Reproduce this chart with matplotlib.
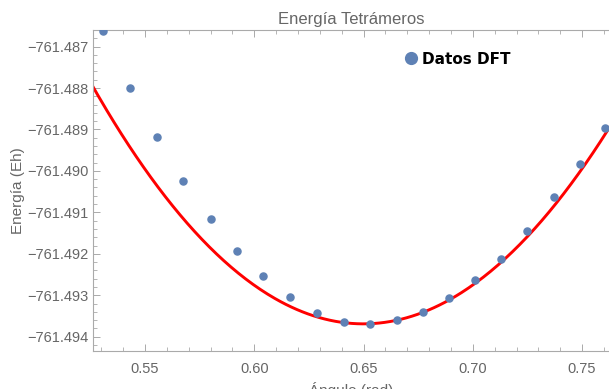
import numpy as np
import matplotlib
matplotlib.use("Agg")
from matplotlib import pyplot as plt
from matplotlib.ticker import MultipleLocator, FormatStrFormatter

# datos DFT (angulo en rad, energia en Eh)
angulo = [0.5308, 0.5431, 0.5555, 0.5674, 0.5802, 0.5921, 0.6040, 0.6163,
          0.6287, 0.6410, 0.6529, 0.6653, 0.6772, 0.6891, 0.7010, 0.7129,
          0.7248, 0.7371, 0.7490, 0.7604]
energia = [-761.48662, -761.48800, -761.48918, -761.49024, -761.49116,
           -761.49193, -761.49253, -761.49304, -761.49343, -761.49365,
           -761.49369, -761.49360, -761.49340, -761.49307, -761.49263,
           -761.49212, -761.49145, -761.49063, -761.48983, -761.48896]

# ajuste cuadratico: E = e0 + k*(x - x0)^2
ajuste_k = 0.3738
ajuste_x0 = 0.6499
ajuste_e0 = -761.49369

azul = '#5E81B5'
gris = '#666666'
plt.rcParams['font.family'] = ['Liberation Sans', 'DejaVu Sans']

fig = plt.figure(figsize=(6.09, 3.89), dpi=100)
ax = fig.add_axes([93/609, 1-351/389, 1-93/609, (351-30)/389])

xs = np.linspace(0.52, 0.77, 300)
ax.plot(xs, ajuste_e0 + ajuste_k*(xs - ajuste_x0)**2, color='#FF0000', lw=2.1, zorder=2)
ax.scatter(angulo, energia, s=26, color=azul, zorder=3, clip_on=True)

ax.set_xlim(0.5262, 0.7623)
ax.set_ylim(-761.494345, -761.48660)

ax.xaxis.set_major_locator(MultipleLocator(0.05))
ax.xaxis.set_minor_locator(MultipleLocator(0.01))
ax.yaxis.set_major_locator(MultipleLocator(0.001))
ax.yaxis.set_minor_locator(MultipleLocator(0.0002))
ax.xaxis.set_major_formatter(FormatStrFormatter('%.2f'))
ax.yaxis.set_major_formatter(lambda v, p: ('%.3f' % v).replace('-', '\u2212'))

for s in ['left', 'bottom', 'top']:
    ax.spines[s].set_color('#aaaaaa')
    ax.spines[s].set_linewidth(0.8)
ax.spines['right'].set_visible(False)
ax.tick_params(which='both', direction='in', color='#aaaaaa', labelcolor=gris,
               labelsize=10.5, top=True, right=False)
ax.tick_params(which='major', length=5, width=0.7)
ax.tick_params(which='minor', length=3, width=0.6)
ax.tick_params(axis='x', pad=8)
ax.tick_params(axis='y', pad=3)

ax.set_title('Energía Tetrámeros', color=gris, fontsize=12, pad=4)
ax.set_xlabel('Ángulo (rad)', color=gris, fontsize=11, labelpad=4)
ax.set_ylabel('Energía (Eh)', color=gris, fontsize=11, labelpad=2)

ax.plot([], [], 'o', color=azul, markersize=8.5, label='Datos DFT')
ax.legend(loc='upper left', bbox_to_anchor=(0.575, 0.975), frameon=False,
          handletextpad=0.2, handlelength=1.0,
          prop={'family': 'DejaVu Sans', 'weight': 'bold', 'size': 11})

fig.savefig('out.png', dpi=100)
